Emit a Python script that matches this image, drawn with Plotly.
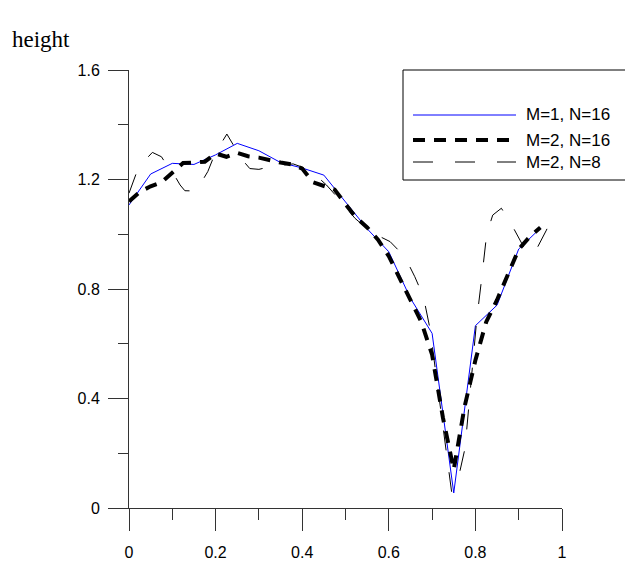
import plotly.graph_objects as go

# ---- data ----
x_m1_n16 = [0.00, 0.05, 0.10, 0.15, 0.20, 0.25, 0.30, 0.35, 0.40, 0.45,
            0.50, 0.55, 0.60, 0.65, 0.70, 0.75, 0.80, 0.85, 0.90, 0.95]
y_m1_n16 = [1.107, 1.220, 1.259, 1.255, 1.290, 1.332, 1.305, 1.262, 1.242, 1.216,
            1.118, 1.020, 0.936, 0.766, 0.638, 0.055, 0.666, 0.741, 0.946, 1.022]

x_m2_n16 = [0.000, 0.025, 0.050, 0.075, 0.100, 0.125, 0.150, 0.175, 0.200, 0.225,
            0.250, 0.275, 0.300, 0.325, 0.350, 0.375, 0.400, 0.425, 0.450, 0.475,
            0.500, 0.525, 0.550, 0.575, 0.600, 0.625, 0.650, 0.675, 0.700, 0.725,
            0.750, 0.775, 0.800, 0.825, 0.850, 0.875, 0.900, 0.925, 0.950]
y_m2_n16 = [1.120, 1.155, 1.175, 1.190, 1.225, 1.260, 1.262, 1.265, 1.295, 1.283,
            1.297, 1.285, 1.280, 1.270, 1.262, 1.255, 1.240, 1.190, 1.175, 1.163,
            1.110, 1.060, 1.025, 0.980, 0.920, 0.840, 0.755, 0.680, 0.560, 0.330,
            0.140, 0.370, 0.540, 0.680, 0.760, 0.855, 0.945, 0.990, 1.025]

x_m2_n8 = [0.000, 0.022, 0.054, 0.075, 0.087, 0.105, 0.118, 0.129, 0.155, 0.182,
           0.199, 0.226, 0.241, 0.260, 0.279, 0.300, 0.326, 0.350, 0.379, 0.418,
           0.456, 0.487, 0.522, 0.549, 0.575, 0.603, 0.637, 0.660, 0.680, 0.695,
           0.720, 0.745, 0.753, 0.764, 0.776, 0.785, 0.791, 0.803, 0.815, 0.826,
           0.840, 0.860, 0.884, 0.911, 0.926, 0.940, 0.964, 0.974]
y_m2_n8 = [1.150, 1.245, 1.299, 1.283, 1.253, 1.215, 1.180, 1.159, 1.158, 1.229,
           1.296, 1.366, 1.326, 1.275, 1.240, 1.237, 1.247, 1.252, 1.257, 1.235,
           1.180, 1.125, 1.058, 1.022, 0.995, 0.973, 0.918, 0.845, 0.772, 0.656,
           0.350, 0.060, 0.096, 0.133, 0.218, 0.376, 0.455, 0.687, 0.845, 1.000,
           1.070, 1.095, 1.034, 0.955, 0.924, 0.942, 1.015, 1.052]

series_names = ["M=1, N=16", "M=2, N=16", "M=2, N=8"]
x_ticks = [0, 0.2, 0.4, 0.6, 0.8, 1]
y_ticks = [0, 0.4, 0.8, 1.2, 1.6]
y_label = "height"

styles = [
    dict(color="#0000FF", width=1, dash="solid"),
    dict(color="#000000", width=4, dash="12px,9px"),
    dict(color="#000000", width=1, dash="20px,22px"),
]

fig = go.Figure()
for xs, ys, name, st in zip([x_m1_n16, x_m2_n16, x_m2_n8],
                            [y_m1_n16, y_m2_n16, y_m2_n8],
                            series_names, styles):
    fig.add_trace(go.Scatter(x=xs, y=ys, mode="lines", name=name,
                             line=st, showlegend=False))

# ---- manual legend (box, samples, labels) in paper coords ----
W, H = 625, 561
ml, mr, mt, mb = 129, 63, 70, 53
pw, ph = W - ml - mr, H - mt - mb


def px_x(p):
    return (p - ml) / pw


def px_y(p):
    return (H - mb - p) / ph


fig.add_shape(type="rect", xref="paper", yref="paper",
              x0=px_x(403), x1=px_x(640), y0=px_y(180), y1=px_y(70),
              line=dict(color="black", width=1), fillcolor="white", layer="above")
row_y = [115, 140, 162]
for name, st, ry in zip(series_names, styles, row_y):
    fig.add_shape(type="line", xref="paper", yref="paper",
                  x0=px_x(413), x1=px_x(516), y0=px_y(ry), y1=px_y(ry),
                  line=st, layer="above")
    fig.add_annotation(xref="paper", yref="paper", x=px_x(524), y=px_y(ry),
                       text=name, showarrow=False, xanchor="left", yanchor="middle",
                       font=dict(family="Arial, Liberation Sans, sans-serif",
                                 size=17, color="black"))

axis_font = dict(family="Arial, Liberation Sans, sans-serif", size=16, color="black")
fig.update_layout(
    template="none",
    width=W, height=H,
    margin=dict(l=ml, r=mr, t=mt, b=mb, pad=0, autoexpand=False),
    paper_bgcolor="white", plot_bgcolor="white",
    title=dict(text=y_label, x=12 / W, xanchor="left", y=1 - 39 / H, yanchor="middle",
               font=dict(family="Times New Roman, Liberation Serif, serif", size=23,
                         color="black")),
    xaxis=dict(range=[0, 1], tickvals=x_ticks, ticktext=[f"{v:g}" for v in x_ticks],
               automargin=False,
               showgrid=False, zeroline=False, showline=True, linecolor="#333",
               linewidth=1, ticks="outside", ticklen=22, tickcolor="#333",
               tickfont=axis_font, ticklabelstandoff=8,
               minor=dict(ticks="outside", ticklen=11, dtick=0.1, tick0=0,
                          tickcolor="#333", showgrid=False)),
    yaxis=dict(range=[0, 1.6], tickvals=y_ticks, ticktext=[f"{v:g}" for v in y_ticks],
               automargin=False,
               showgrid=False, zeroline=False, showline=True, linecolor="#333",
               linewidth=1, ticks="outside", ticklen=20, tickcolor="#333",
               tickfont=axis_font, ticklabelstandoff=5,
               minor=dict(ticks="outside", ticklen=10, dtick=0.2, tick0=0,
                          tickcolor="#333", showgrid=False)),
)

fig.write_html("out.html")
